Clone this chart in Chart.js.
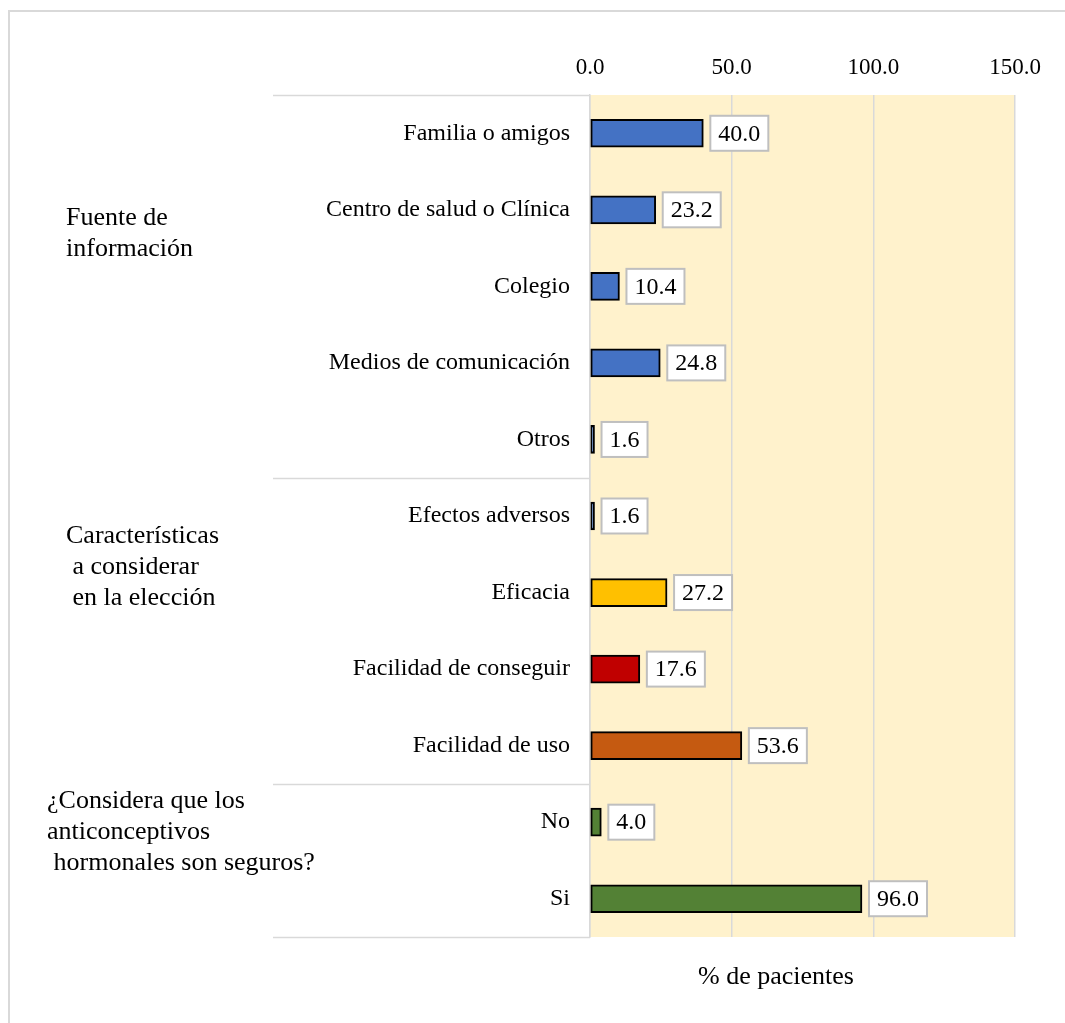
<!DOCTYPE html>
<html>
<head>
<meta charset="utf-8">
<script src="https://cdn.jsdelivr.net/npm/chart.js@4"></script>
<style>
  body { margin: 0; background: #fff; }
  #wrap { width: 1065px; height: 1023px; position: relative; }
</style>
</head>
<body>
<div id="wrap"><canvas id="chart"></canvas></div>
<script>
// Categories and percentages
const categories = [
  "Familia o amigos",
  "Centro de salud o Clínica",
  "Colegio",
  "Medios de comunicación",
  "Otros",
  "Efectos adversos",
  "Eficacia",
  "Facilidad de conseguir",
  "Facilidad de uso",
  "No",
  "Si"
];
const values = [40.0, 23.2, 10.4, 24.8, 1.6, 1.6, 27.2, 17.6, 53.6, 4.0, 96.0];
const barColors = [
  "#4472C4", "#4472C4", "#4472C4", "#4472C4", "#4472C4",
  "#4472C4", "#FFC000", "#C00000", "#C55A11", "#538135", "#538135"
];
const xTicks = [0, 50, 100, 150];

// Group headings on the left and where each group ends (category index)
const groupTitles = [
  ["Fuente de", "información"],
  ["Características", " a considerar", " en la elección"],
  ["¿Considera que los", "anticonceptivos", " hormonales son seguros?"]
];
const groupBreaks = [-0.5, 4.5, 8.5, 10.5];
const axisTitle = "% de pacientes";

const serif = "'Liberation Serif', 'Times New Roman', serif";
const gridGrey = "#d9d9d9";

// Yellow fill behind the bars
const plotBackground = {
  id: "plotBackground",
  beforeDraw(chart) {
    const { ctx, chartArea: a } = chart;
    ctx.save();
    ctx.fillStyle = "#FFF2CC";
    ctx.fillRect(a.left, a.top, a.right - a.left, a.bottom - a.top);
    ctx.restore();
  }
};

// Frame, group separators, group titles and bottom axis title
const decorations = {
  id: "decorations",
  afterDraw(chart) {
    const { ctx, chartArea: a } = chart;
    const y = chart.scales.y;
    ctx.save();
    ctx.strokeStyle = gridGrey;
    ctx.lineWidth = 2;
    ctx.beginPath();
    ctx.moveTo(9, 1023);
    ctx.lineTo(9, 11);
    ctx.lineTo(1065, 11);
    ctx.stroke();

    ctx.lineWidth = 1.5;
    groupBreaks.forEach(b => {
      const py = Math.round(y.getPixelForValue(b)) + 0.5;
      ctx.beginPath();
      ctx.moveTo(273, py);
      ctx.lineTo(a.left, py);
      ctx.stroke();
    });

    ctx.fillStyle = "#000";
    ctx.font = "26px " + serif;
    ctx.textAlign = "left";
    ctx.textBaseline = "middle";
    const starts = [[66, 218], [66, 536], [47, 801]];
    groupTitles.forEach((lines, i) => {
      lines.forEach((t, j) => {
        ctx.fillText(t, starts[i][0], starts[i][1] + j * 31);
      });
    });

    ctx.font = "26px " + serif;
    ctx.textAlign = "center";
    ctx.fillText(axisTitle, 776, 977);
    ctx.restore();
  }
};

// Boxed value labels at the end of each bar
const valueLabels = {
  id: "valueLabels",
  afterDatasetsDraw(chart) {
    const { ctx } = chart;
    const meta = chart.getDatasetMeta(0);
    ctx.save();
    ctx.font = "24px " + serif;
    ctx.textBaseline = "middle";
    ctx.textAlign = "left";
    meta.data.forEach((bar, i) => {
      const text = values[i].toFixed(1);
      const w = ctx.measureText(text).width + 16;
      const h = 35;
      const x = bar.x + 7;
      const top = bar.y - h / 2;
      ctx.fillStyle = "#fff";
      ctx.fillRect(x, top, w, h);
      ctx.strokeStyle = "#bfbfbf";
      ctx.lineWidth = 2;
      ctx.strokeRect(x, top, w, h);
      ctx.fillStyle = "#000";
      ctx.fillText(text, x + 8, bar.y + 1);
    });
    ctx.restore();
  }
};

new Chart(document.getElementById("chart"), {
  type: "bar",
  data: {
    labels: categories,
    datasets: [{
      data: values,
      backgroundColor: barColors,
      borderColor: "#000",
      borderWidth: 2,
      borderSkipped: false,
      barThickness: 28
    }]
  },
  options: {
    indexAxis: "y",
    responsive: true,
    maintainAspectRatio: false,
    animation: false,
    layout: { padding: { left: 0, right: 50, top: 0, bottom: 86 } },
    plugins: {
      legend: { display: false },
      tooltip: { enabled: false }
    },
    scales: {
      x: {
        position: "top",
        min: 0,
        max: 150,
        afterBuildTicks: s => { s.ticks = xTicks.map(v => ({ value: v })); },
        afterFit: s => { s.height = 95; },
        grid: { color: gridGrey, lineWidth: 1.5, drawTicks: false },
        border: { display: false },
        ticks: {
          color: "#000",
          font: { family: serif, size: 23 },
          padding: 13,
          callback: v => Number(v).toFixed(1)
        }
      },
      y: {
        afterFit: s => { s.width = 590; },
        grid: { display: false, drawTicks: false },
        border: { display: true, color: gridGrey, width: 1.5 },
        ticks: {
          color: "#000",
          font: { family: serif, size: 24 },
          padding: 20
        }
      }
    }
  },
  plugins: [plotBackground, decorations, valueLabels]
});
</script>
</body>
</html>
